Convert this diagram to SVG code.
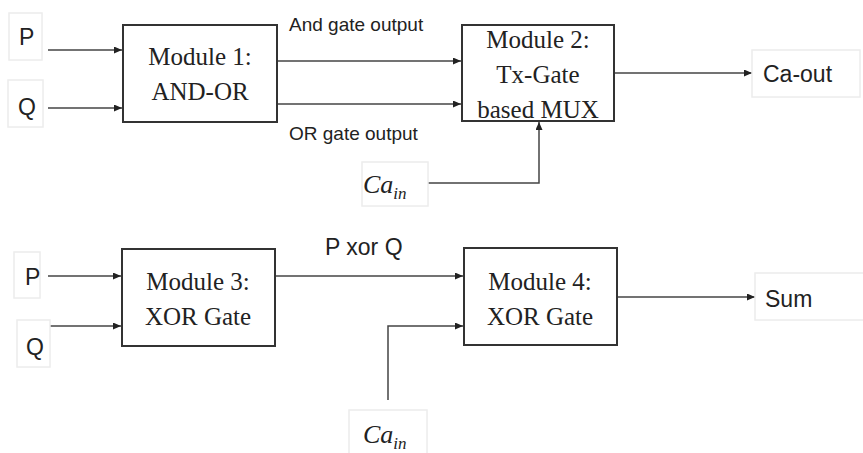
<svg xmlns="http://www.w3.org/2000/svg" width="863" height="453" viewBox="0 0 863 453">
<style>
.mod{fill:#fff;stroke:#333;stroke-width:2}
.lbl{fill:#fff;stroke:#ececec;stroke-width:1.5}
.mt{font-family:"Liberation Serif",serif;font-size:25px;fill:#222;text-anchor:middle}
.st{font-family:"Liberation Sans",Arial,sans-serif;font-size:23px;fill:#222}
.sm{font-family:"Liberation Sans",Arial,sans-serif;font-size:19px;fill:#222}
.ca{font-family:"Liberation Serif",serif;font-style:italic;fill:#222}
.c{fill:none;stroke:#444;stroke-width:1.5}
</style>
<defs>
<marker id="ah" markerUnits="userSpaceOnUse" markerWidth="9" markerHeight="8" refX="8" refY="3.5" orient="auto">
<path d="M0,0 L8,3.5 L0,7 z" fill="#222"/>
</marker>
</defs>
<rect width="863" height="453" fill="#fff"/>
<g id="connectors">
<path class="c" d="M48,50 H122" marker-end="url(#ah)"/>
<path class="c" d="M48,108 H122" marker-end="url(#ah)"/>
<path class="c" d="M277,61 H461" marker-end="url(#ah)"/>
<path class="c" d="M277,104 H461" marker-end="url(#ah)"/>
<path class="c" d="M428,183 H539 V122" marker-end="url(#ah)"/>
<path class="c" d="M614,73 H752" marker-end="url(#ah)"/>
<path class="c" d="M48,276 H121" marker-end="url(#ah)"/>
<path class="c" d="M50,326 H121" marker-end="url(#ah)"/>
<path class="c" d="M275,276 H463" marker-end="url(#ah)"/>
<path class="c" d="M388,400 V326 H463" marker-end="url(#ah)"/>
<path class="c" d="M617,297 H755" marker-end="url(#ah)"/>
<text class="sm" x="289" y="31">And gate output</text>
<text class="sm" x="289" y="140">OR gate output</text>
<text class="st" x="325" y="255">P xor Q</text>
</g>
<g id="p1"><rect class="lbl" x="9" y="13" width="33" height="47"/><text class="st" x="19" y="45">P</text></g>
<g id="q1"><rect class="lbl" x="8" y="80" width="35" height="47"/><text class="st" x="18" y="115">Q</text></g>
<g id="module1"><rect class="mod" x="123" y="25" width="154" height="97"/><text class="mt" x="200" y="65">Module 1:</text><text class="mt" x="200" y="100">AND-OR</text></g>
<g id="module2"><rect class="mod" x="462" y="25" width="152" height="96"/><text class="mt" x="538" y="48">Module 2:</text><text class="mt" x="538" y="83">Tx-Gate</text><text class="mt" x="538" y="118">based MUX</text></g>
<g id="cain1"><rect class="lbl" x="362" y="162" width="66" height="44"/><text class="ca" x="363" y="193" font-size="26">Ca<tspan font-size="17" dy="6">in</tspan></text></g>
<g id="caout"><rect class="lbl" x="752" y="50" width="108" height="47"/><text class="st" x="763" y="82">Ca-out</text></g>
<g id="p3"><rect class="lbl" x="14" y="252" width="26" height="46"/><text class="st" x="25" y="285">P</text></g>
<g id="q3"><rect class="lbl" x="17" y="320" width="33" height="47"/><text class="st" x="26" y="355">Q</text></g>
<g id="module3"><rect class="mod" x="122" y="249" width="153" height="97"/><text class="mt" x="198" y="290">Module 3:</text><text class="mt" x="198" y="325">XOR Gate</text></g>
<g id="module4"><rect class="mod" x="464" y="248" width="153" height="97"/><text class="mt" x="540" y="290">Module 4:</text><text class="mt" x="540" y="325">XOR Gate</text></g>
<g id="cain2"><rect class="lbl" x="349" y="410" width="78" height="45"/><text class="ca" x="363" y="443" font-size="26">Ca<tspan font-size="17" dy="6">in</tspan></text></g>
<g id="sum"><rect class="lbl" x="755" y="273" width="110" height="47"/><text class="st" x="765" y="307">Sum</text></g>
</svg>
